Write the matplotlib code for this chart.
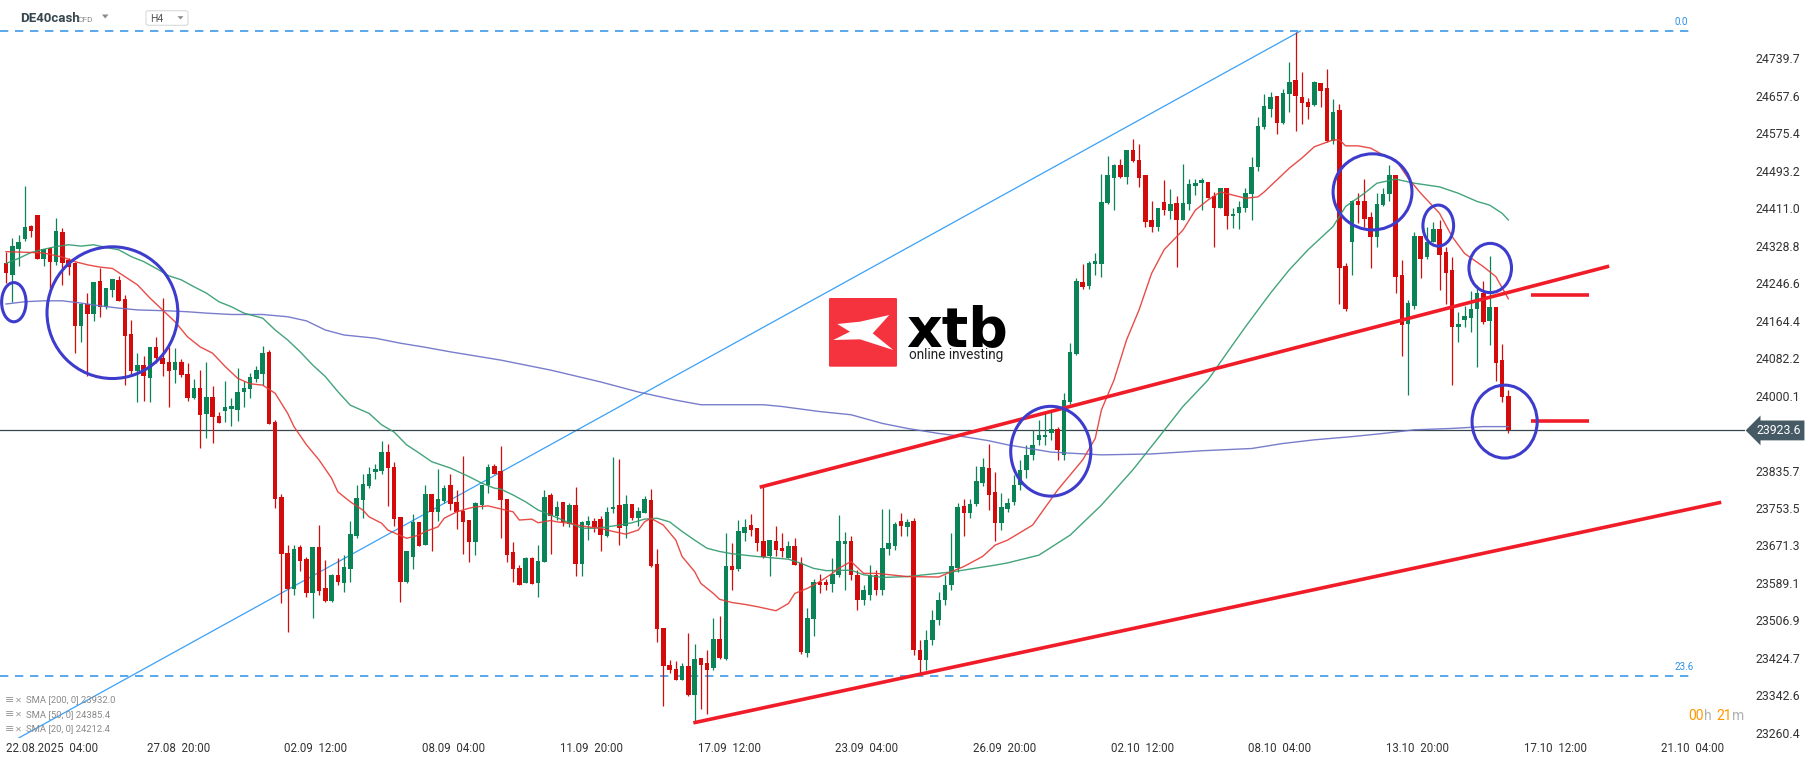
import matplotlib
matplotlib.use("Agg")
import matplotlib.pyplot as plt
from matplotlib.patches import Ellipse, Polygon, FancyBboxPatch
from matplotlib.transforms import blended_transform_factory
import numpy as np

W, H = 1815, 761

# =========================
# DE40cash H4 candles (22.08 - 16.10.2025)
# =========================
opens = [
    24292, 24265, 24322, 24344, 24372, 24396, 24299, 24324, 24294, 24359,
    24297, 24291, 24153, 24200, 24180, 24252, 24194, 24231, 24254, 24212,
    24135, 24053, 24067, 24039, 24106, 24083, 24073, 24056, 24073, 24048,
    23995, 24017, 23960, 23997, 23955, 23967, 23971, 23969, 24007, 24015,
    24037, 24048, 24096, 23942, 23778, 23655, 23576, 23668, 23642, 23566,
    23668, 23578, 23550, 23607, 23589, 23620, 23692, 23772, 23802, 23833,
    23835, 23876, 23843, 23734, 23592, 23647, 23723, 23673, 23784, 23744,
    23769, 23804, 23767, 23747, 23727, 23679, 23761, 23804, 23846, 23835,
    23773, 23657, 23622, 23589, 23644, 23589, 23636, 23782, 23735, 23767,
    23719, 23760, 23631, 23717, 23726, 23730, 23693, 23751, 23759, 23715,
    23762, 23732, 23743, 23771, 23631, 23490, 23408, 23401, 23377, 23406,
    23344, 23425, 23414, 23403, 23465, 23423, 23627, 23620, 23699, 23717,
    23710, 23680, 23649, 23680, 23666, 23644, 23671, 23633, 23436, 23509,
    23592, 23592, 23587, 23607, 23675, 23681, 23607, 23552, 23563, 23607,
    23574, 23663, 23670, 23725, 23712, 23725, 23442, 23420, 23464, 23508,
    23552, 23585, 23622, 23758, 23742, 23762, 23808, 23841, 23789, 23721,
    23751, 23767, 23804, 23837, 23870, 23903, 23909, 23918, 23927, 23870,
    23985, 24091, 24250, 24241, 24288, 24289, 24422, 24478, 24505, 24480,
    24539, 24517, 24483, 24385, 24371, 24424, 24405, 24423, 24385, 24421,
    24461, 24466, 24468, 24438, 24412, 24456, 24394, 24401, 24412, 24443,
    24501, 24590, 24629, 24657, 24599, 24662, 24693, 24655, 24644, 24638,
    24686, 24675, 24559, 24627, 24284, 24336, 24428, 24426, 24392, 24347,
    24419, 24443, 24484, 24265, 24158, 24197, 24351, 24305, 24336, 24366,
    24316, 24276, 24151, 24167, 24171, 24189, 24226, 24164, 24195, 24078,
    23999,
]
highs = [
    24316, 24345, 24352, 24460, 24375, 24396, 24322, 24327, 24390, 24368,
    24302, 24294, 24204, 24225, 24250, 24280, 24236, 24256, 24263, 24221,
    24166, 24094, 24087, 24106, 24128, 24214, 24107, 24104, 24080, 24071,
    24036, 24056, 24073, 24022, 23964, 24032, 23994, 24060, 24032, 24050,
    24064, 24108, 24099, 23947, 23784, 23672, 23672, 23672, 23646, 23668,
    23716, 23640, 23609, 23644, 23650, 23725, 23804, 23828, 23843, 23850,
    23901, 23894, 23854, 23734, 23659, 23740, 23723, 23804, 23784, 23839,
    23804, 23828, 23793, 23868, 23727, 23767, 23804, 23850, 23850, 23890,
    23773, 23679, 23629, 23646, 23646, 23672, 23793, 23786, 23769, 23767,
    23764, 23800, 23726, 23736, 23732, 23736, 23756, 23865, 23861, 23782,
    23762, 23756, 23780, 23795, 23664, 23490, 23420, 23418, 23414, 23480,
    23456, 23425, 23441, 23511, 23517, 23699, 23677, 23728, 23730, 23741,
    23710, 23799, 23683, 23714, 23699, 23680, 23688, 23647, 23535, 23598,
    23609, 23598, 23644, 23739, 23701, 23692, 23617, 23585, 23628, 23617,
    23751, 23751, 23723, 23742, 23729, 23732, 23464, 23486, 23530, 23569,
    23607, 23699, 23764, 23774, 23774, 23846, 23863, 23894, 23832, 23786,
    23775, 23826, 23859, 23892, 23925, 23947, 23962, 23965, 23931, 24006,
    24116, 24257, 24289, 24296, 24312, 24486, 24526, 24508, 24519, 24539,
    24563, 24552, 24483, 24427, 24411, 24473, 24453, 24438, 24508, 24475,
    24476, 24478, 24468, 24446, 24456, 24456, 24412, 24426, 24456, 24524,
    24611, 24661, 24666, 24657, 24673, 24732, 24798, 24710, 24653, 24690,
    24686, 24717, 24651, 24640, 24292, 24429, 24444, 24476, 24403, 24444,
    24456, 24506, 24484, 24298, 24210, 24358, 24351, 24371, 24381, 24385,
    24327, 24305, 24184, 24197, 24230, 24243, 24252, 24307, 24195, 24113,
    24012,
]
lows = [
    24248, 24206, 24285, 24340, 24348, 24299, 24285, 24232, 24287, 24243,
    24265, 24094, 24117, 24043, 24164, 24172, 24191, 24217, 24208, 24023,
    24042, 23987, 23989, 23985, 24071, 24043, 23974, 24028, 24040, 23989,
    23993, 23884, 23908, 23897, 23939, 23943, 23934, 23945, 23974, 23994,
    24030, 24023, 23938, 23754, 23544, 23482, 23563, 23616, 23559, 23511,
    23563, 23547, 23547, 23584, 23570, 23591, 23688, 23732, 23797, 23817,
    23828, 23758, 23714, 23548, 23589, 23620, 23671, 23673, 23660, 23726,
    23765, 23749, 23707, 23653, 23636, 23651, 23752, 23787, 23828, 23688,
    23636, 23592, 23585, 23589, 23587, 23559, 23636, 23653, 23728, 23713,
    23711, 23605, 23605, 23684, 23700, 23658, 23690, 23742, 23673, 23688,
    23728, 23713, 23743, 23623, 23460, 23320, 23392, 23375, 23375, 23342,
    23282, 23313, 23302, 23397, 23423, 23419, 23574, 23616, 23682, 23693,
    23660, 23644, 23605, 23649, 23647, 23644, 23629, 23434, 23427, 23473,
    23568, 23574, 23570, 23601, 23574, 23596, 23530, 23541, 23552, 23563,
    23563, 23650, 23661, 23691, 23692, 23431, 23387, 23398, 23453, 23497,
    23541, 23574, 23613, 23691, 23731, 23758, 23802, 23749, 23680, 23705,
    23745, 23760, 23793, 23819, 23859, 23892, 23892, 23903, 23859, 23859,
    23982, 24089, 24235, 24233, 24265, 24261, 24420, 24407, 24478, 24464,
    24513, 24458, 24369, 24358, 24362, 24396, 24388, 24283, 24385, 24407,
    24440, 24407, 24434, 24327, 24411, 24365, 24368, 24366, 24403, 24385,
    24492, 24586, 24611, 24575, 24597, 24623, 24581, 24597, 24608, 24636,
    24634, 24557, 24553, 24200, 24186, 24265, 24378, 24371, 24279, 24325,
    24417, 24426, 24225, 24088, 24002, 24189, 24257, 24300, 24336, 24232,
    24202, 24024, 24118, 24151, 24140, 24062, 24158, 24110, 24033, 23985,
    23919,
]
closes = [
    24268, 24328, 24336, 24370, 24362, 24299, 24322, 24294, 24361, 24290,
    24283, 24153, 24202, 24178, 24250, 24194, 24236, 24256, 24208, 24130,
    24053, 24067, 24044, 24106, 24082, 24070, 24055, 24073, 24046, 23995,
    24017, 23957, 23997, 23952, 23939, 23975, 23977, 24008, 24017, 24041,
    24056, 24094, 23938, 23774, 23653, 23576, 23664, 23638, 23568, 23668,
    23572, 23550, 23607, 23591, 23624, 23696, 23775, 23806, 23828, 23839,
    23876, 23842, 23730, 23592, 23659, 23723, 23671, 23784, 23744, 23773,
    23797, 23763, 23744, 23723, 23679, 23764, 23804, 23843, 23828, 23772,
    23651, 23620, 23585, 23644, 23587, 23637, 23778, 23735, 23756, 23722,
    23760, 23631, 23723, 23726, 23712, 23695, 23745, 23756, 23710, 23762,
    23732, 23747, 23773, 23627, 23487, 23406, 23397, 23375, 23406, 23344,
    23423, 23410, 23397, 23467, 23425, 23627, 23618, 23704, 23712, 23706,
    23677, 23647, 23683, 23662, 23660, 23669, 23629, 23438, 23511, 23592,
    23585, 23585, 23609, 23680, 23682, 23607, 23552, 23574, 23607, 23574,
    23665, 23676, 23718, 23715, 23722, 23442, 23420, 23464, 23508, 23552,
    23585, 23626, 23756, 23742, 23762, 23813, 23843, 23782, 23721, 23756,
    23765, 23804, 23837, 23870, 23892, 23914, 23914, 23927, 23881, 23990,
    24095, 24252, 24239, 24292, 24295, 24424, 24483, 24506, 24480, 24539,
    24515, 24478, 24382, 24371, 24411, 24407, 24420, 24385, 24423, 24464,
    24466, 24472, 24434, 24412, 24456, 24395, 24399, 24413, 24445, 24502,
    24592, 24635, 24655, 24599, 24664, 24688, 24658, 24641, 24634, 24688,
    24669, 24559, 24622, 24279, 24191, 24426, 24419, 24388, 24347, 24421,
    24442, 24484, 24261, 24156, 24204, 24351, 24300, 24338, 24366, 24309,
    24268, 24151, 24157, 24175, 24191, 24226, 24162, 24195, 24071, 23998,
    23923.6,
]

# moving averages (candle index, value)
sma20_idx = [0, 6, 9, 11, 13, 15, 17, 19, 21, 23, 25, 27, 29, 31, 33, 35, 37, 39, 41, 43,
             45, 46, 48, 50, 52, 53, 55, 57, 58, 60, 61, 64, 66, 67, 69, 70, 72, 74, 75, 77,
             81, 82, 84, 85, 87, 88, 90, 92, 93, 95, 96, 99, 101, 102, 103, 105, 107, 108, 110, 111,
             113, 114, 116, 118, 120, 123, 125, 126, 128, 130, 132, 133, 135, 137, 139, 144, 149, 153, 156, 158,
             160, 164, 168, 172, 174, 175, 177, 179, 181, 183, 185, 188, 190, 192, 194, 196, 198, 200, 201, 203,
             205, 207, 209, 212, 213, 214, 216, 218, 220, 222, 224, 226, 229, 231, 233, 236, 238, 240]
sma20_val = [24316, 24313, 24304, 24294, 24287, 24282, 24279, 24261, 24243, 24214,
             24188, 24162, 24129, 24107, 24093, 24064, 24038, 24026, 24023, 24005,
             23961, 23932, 23892, 23859, 23819, 23789, 23767, 23749, 23734, 23720,
             23705, 23687, 23694, 23702, 23712, 23731, 23745, 23753, 23756, 23758,
             23745, 23727, 23729, 23721, 23726, 23723, 23720, 23714, 23712, 23709,
             23705, 23696, 23705, 23723, 23731, 23716, 23683, 23647, 23614, 23588,
             23566, 23553, 23546, 23542, 23537, 23528, 23544, 23566, 23577, 23592,
             23610, 23621, 23636, 23610, 23610, 23603, 23602, 23625, 23647, 23672,
             23683, 23716, 23793, 23859, 23906, 23969, 24034, 24122, 24188, 24268,
             24320, 24363, 24407, 24429, 24447, 24440, 24433, 24436, 24447, 24473,
             24499, 24521, 24546, 24561, 24561, 24548, 24548, 24543, 24528, 24517,
             24477, 24444, 24400, 24349, 24312, 24283, 24261, 24212.4]

sma50_idx = [0, 2, 4, 6, 8, 10, 12, 14, 16, 18, 20, 22, 24, 26, 28, 30, 32, 34, 36, 38,
             41, 43, 45, 47, 49, 51, 53, 55, 58, 60, 62, 64, 66, 68, 71, 74, 76, 78, 79, 81,
             83, 85, 87, 90, 92, 94, 96, 98, 100, 102, 104, 106, 108, 110, 112, 114, 116, 118, 120, 125,
             127, 129, 131, 135, 137, 140, 144, 151, 158, 160, 165, 170, 175, 180, 184, 188, 192, 195, 198, 200,
             202, 205, 208, 212, 214, 217, 219, 222, 225, 229, 232, 235, 237, 239, 240]
sma50_val = [24290, 24301, 24314, 24321, 24327, 24331, 24328, 24331, 24325, 24320,
             24305, 24294, 24279, 24263, 24254, 24239, 24225, 24206, 24195, 24181,
             24170, 24144, 24122, 24096, 24067, 24042, 24009, 23979, 23961, 23936,
             23920, 23892, 23874, 23855, 23841, 23822, 23808, 23797, 23795, 23782,
             23767, 23749, 23738, 23721, 23709, 23709, 23712, 23716, 23721, 23729,
             23731, 23723, 23702, 23683, 23665, 23658, 23653, 23650, 23647, 23641,
             23632, 23621, 23616, 23617, 23607, 23601, 23603, 23613, 23628, 23633,
             23650, 23694, 23760, 23837, 23906, 23976, 24034, 24093, 24151, 24188,
             24225, 24276, 24320, 24371, 24415, 24444, 24466, 24475, 24466, 24458,
             24444, 24426, 24418, 24400, 24385.4]

sma200_idx = [0, 3, 6, 9, 12, 15, 18, 21, 26, 29, 32, 36, 41, 45, 48, 51, 54, 59, 63, 67,
              71, 79, 87, 95, 101, 107, 111, 121, 124, 130, 135, 140, 144, 149, 153, 157, 160, 167, 175, 183,
              191, 199, 204, 209, 215, 220, 225, 231, 236, 240]
sma200_val = [24201, 24206, 24208, 24208, 24203, 24197, 24192, 24188, 24186, 24184,
              24181, 24178, 24178, 24173, 24164, 24144, 24133, 24126, 24115, 24106,
              24096, 24078, 24056, 24030, 24008, 23990, 23980, 23980, 23976, 23965,
              23958, 23939, 23928, 23917, 23910, 23901, 23892, 23876, 23870, 23872,
              23879, 23884, 23895, 23903, 23910, 23917, 23925, 23928, 23932, 23932.0]

# axis labels
y_ticks = [24739.7, 24657.6, 24575.4, 24493.2, 24411.0, 24328.8, 24246.6, 24164.4, 24082.2,
           24000.1, 23835.7, 23753.5, 23671.3, 23589.1, 23506.9, 23424.7, 23342.6, 23260.4]
x_tick_pos = [0, 27.5, 49.5, 71.5, 93.5, 115.5, 137.5, 159.5, 181.5, 203.5, 225.5, 247.5, 269.5]
x_tick_labels = ["22.08.2025  04:00", "27.08  20:00", "02.09  12:00", "08.09  04:00",
                 "11.09  20:00", "17.09  12:00", "23.09  04:00", "26.09  20:00",
                 "02.10  12:00", "08.10  04:00", "13.10  20:00", "17.10  12:00",
                 "21.10  04:00"]
last_price = 23923.6

# drawings on the chart
fib_levels = [24800, 23385]
fib_names = ["0.0", "23.6"]
fib_line = [(-20, 23082), (206.8, 24800)]
channel_top = [(120.4, 23799), (256.1, 24284)]
channel_bottom = [(109.8, 23282), (274.0, 23766)]
target_levels = [24221, 23944]
target_span = (243.6, 252.9)
# circles: (candle index, price, width in candles, height in points)
circles = [
    (1.25, 24205, 3.9, 86),
    (17.0, 24182, 20.9, 289),
    (166.9, 23878, 12.8, 197),
    (218.3, 24447, 12.6, 167),
    (228.8, 24373, 4.9, 90),
    (237.1, 24280, 6.8, 108),
    (239.4, 23943, 10.4, 160),
]
legend_rows = ["SMA [200, 0] 23932.0", "SMA [50, 0] 24385.4", "SMA [20, 0] 24212.4"]

GREEN = "#0a8457"
RED = "#d40b0b"

plt.rcParams["font.family"] = ["Roboto", "DejaVu Sans"]
plt.rcParams["lines.scale_dashes"] = False


def fx(px):
    return px / W


def fy(py):
    return 1 - py / H


fig = plt.figure(figsize=(W / 100, H / 100), dpi=100)
fig.patch.set_facecolor("white")
ax = fig.add_axes([0, fy(738), fx(1745), 738 / H])
ax.set_xlim(-0.96, 277.8)
ax.set_ylim(23248.8, 24868)
for s in ax.spines.values():
    s.set_visible(False)

# =========================
# Candles
# =========================
o = np.array(opens, dtype=float)
c = np.array(closes, dtype=float)
x = np.arange(len(c))
col = np.where(c >= o, GREEN, RED)
ax.vlines(x, lows, highs, colors=col, lw=0.9, zorder=3)
body_low = np.minimum(o, c)
body_h = np.maximum(np.abs(c - o), 2.5)
ax.bar(x, body_h, width=0.72, bottom=body_low, color=col, linewidth=0, zorder=4)

# =========================
# Moving averages
# =========================
ax.plot(sma200_idx, sma200_val, color="#6a6fc6", lw=1.0, alpha=0.9, zorder=5)
ax.plot(sma50_idx, sma50_val, color="#2f9a6c", lw=1.0, alpha=0.9, zorder=5)
ax.plot(sma20_idx, sma20_val, color="#e53935", lw=1.0, alpha=0.9, zorder=5)

# =========================
# Drawings
# =========================
for lvl, name in zip(fib_levels, fib_names):
    ax.plot([-0.96, 269.3], [lvl, lvl], color="#2b8fe6", lw=1.1,
            dashes=(6, 4.8), zorder=2)
    ax.text(266.6, lvl + 8, name, color="#2b8fe6", fontsize=7,
            ha="left", va="bottom")

ax.plot(*zip(*fib_line), color="#3aa0f7", lw=0.9, zorder=2)

ax.axhline(last_price, color="#37474f", lw=0.9, zorder=2)

for seg in (channel_top, channel_bottom):
    ax.plot(*zip(*seg), color="#f01c28", lw=2.6, solid_capstyle="butt", zorder=6)
for lvl in target_levels:
    ax.plot(target_span, [lvl, lvl], color="#f01c28", lw=2.6,
            solid_capstyle="butt", zorder=6)

for cx, cy, cw, ch in circles:
    ax.add_patch(Ellipse((cx, cy), cw, ch, fill=False, ec="#3d3ccc",
                         lw=2.2, zorder=7))

# =========================
# Axes labels
# =========================
ax.yaxis.tick_right()
ax.set_yticks(y_ticks)
ax.set_yticklabels([f"{v:.1f}" for v in y_ticks])
ax.tick_params(axis="y", length=0, pad=7.5, labelsize=8.8, labelcolor="#333333")
ax.set_xticks(x_tick_pos)
ax.set_xticklabels(x_tick_labels)
ax.tick_params(axis="x", length=0, pad=3, labelsize=8.3, labelcolor="#333333")
ax.get_xticklabels()[0].set_horizontalalignment("left")

# price tag
tr = blended_transform_factory(ax.transAxes, ax.transData)
ax.text(1.0066, last_price, f"{last_price:.1f}", transform=tr, color="white",
        fontsize=8.8, ha="left", va="center", zorder=10, clip_on=False,
        bbox=dict(boxstyle="larrow,pad=0.28", fc="#455a64", ec="none"))

# =========================
# Header / logo / legend
# =========================
fig.text(fx(20), fy(18.5), "DE40cash", fontsize=9.5, fontweight="bold",
         color="#37474f", va="center")
fig.text(fx(78), fy(19.5), "CFD", fontsize=6, color="#8a8a8a", va="center")
fig.patches.append(Polygon([(fx(102), fy(14.5)), (fx(108.5), fy(14.5)),
                            (fx(105.2), fy(18.5))], closed=True,
                           transform=fig.transFigure, fc="#8a8a8a", ec="none"))
fig.patches.append(FancyBboxPatch((fx(146), fy(25.3)), 42 / W, 14.6 / H,
                                  boxstyle="round,pad=0,rounding_size=0.002",
                                  transform=fig.transFigure, fc="white",
                                  ec="#dadada", lw=0.8))
fig.text(fx(150.5), fy(19.5), "H4", fontsize=7.5, color="#555555", va="center")
fig.patches.append(Polygon([(fx(177.5), fy(16.2)), (fx(183.5), fy(16.2)),
                            (fx(180.5), fy(19.5))], closed=True,
                           transform=fig.transFigure, fc="#8a8a8a", ec="none"))

# xtb logo
fig.patches.append(FancyBboxPatch((fx(829), fy(366.7)), 68 / W, 68.7 / H,
                                  boxstyle="round,pad=0,rounding_size=0.001",
                                  transform=fig.transFigure, fc="#f5333f",
                                  ec="none", zorder=1))
xshape = [(837.3, 324), (860, 321.7), (889.3, 315), (872.7, 333.3),
          (893.3, 350), (860, 339.3), (833.3, 340), (850, 331.7)]
fig.patches.append(Polygon([(fx(a), fy(b)) for a, b in xshape], closed=True,
                           transform=fig.transFigure, fc="white", ec="none",
                           zorder=2))
fig.text(fx(906), fy(346), "xtb", fontsize=40, fontweight="bold", color="black",
         va="baseline", ha="left", family="DejaVu Sans")
fig.text(fx(909), fy(355.5), "online investing", fontsize=9.8, color="#222222",
         va="center", ha="left")

for k, row in enumerate(legend_rows):
    yy = 700 + k * 14.5
    fig.text(fx(5), fy(yy), "\u2261", fontsize=8, color="#9a9a9a", va="center",
             family="DejaVu Sans")
    fig.text(fx(15), fy(yy), "\u2715", fontsize=6, color="#9a9a9a", va="center",
             family="DejaVu Sans")
    fig.text(fx(26), fy(yy), row, fontsize=6.8, color="#8a8a8a", va="center")

timer = [("00", "#ff9800", 1688), ("h", "#b0b0b0", 1704),
         ("21", "#ff9800", 1716), ("m", "#b0b0b0", 1732)]
for txt, colr, px in timer:
    fig.text(fx(px), fy(716), txt, fontsize=10, color=colr, va="center")

fig.savefig("out.png", dpi=100, facecolor="white")
